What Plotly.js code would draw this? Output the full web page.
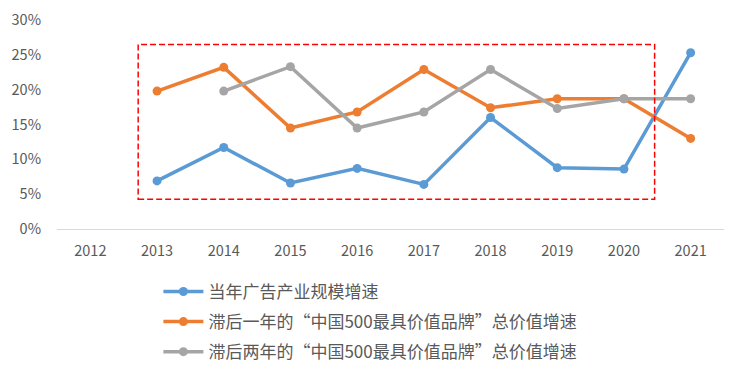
<!DOCTYPE html>
<html><head><meta charset="utf-8">
<script src="https://cdn.plot.ly/plotly-3.0.1.min.js"></script>
<style>body{margin:0;background:#fff}#c{width:741px;height:373px}</style>
</head><body><div id="c"></div>
<script>
var years = ['2012','2013','2014','2015','2016','2017','2018','2019','2020','2021'];
var adGrowth = [null, 6.9, 11.7, 6.6, 8.7, 6.4, 16.0, 8.8, 8.6, 25.3];
var lag1Growth = [null, 19.8, 23.2, 14.5, 16.8, 22.9, 17.4, 18.7, 18.7, 13.0];
var lag2Growth = [null, null, 19.8, 23.3, 14.5, 16.8, 22.9, 17.3, 18.7, 18.7];
var names = ['当年广告产业规模增速', '滞后一年的“中国500最具价值品牌”总价值增速', '滞后两年的“中国500最具价值品牌”总价值增速'];
var colors = ['#5B9BD5', '#ED7D31', '#A5A5A5'];
var series = [adGrowth, lag1Growth, lag2Growth];
var traces = series.map(function(s, i){
  return {x: years, y: s, name: names[i], type: 'scatter', mode: 'lines+markers', legendgroup: 'g' + i,
    line: {color: colors[i], width: 3.5}, marker: {color: colors[i], size: 9}};
});
var layout = {
  width: 741, height: 373,
  margin: {l: 57, r: 17, t: 20, b: 144, autoexpand: false},
  paper_bgcolor: '#fff', plot_bgcolor: '#fff',
  font: {family: '"Noto Sans CJK SC", "Open Sans", sans-serif', color: '#595959', size: 14},
  showlegend: true,
  legend: {orientation: 'v', x: 0.152, xanchor: 'left', y: -0.215, yanchor: 'top',
    font: {size: 17, color: '#595959'}, tracegroupgap: 5, itemwidth: 40},
  xaxis: {type: 'category', range: [-0.5, 9.5], showgrid: false, showline: true, linecolor: '#D9D9D9', linewidth: 1,
    ticks: '', ticklabelstandoff: 9, tickfont: {size: 14.5, color: '#595959'}, fixedrange: true},
  yaxis: {range: [0, 30], dtick: 5, ticksuffix: '%', showgrid: false, zeroline: false, showline: false,
    ticklabelstandoff: 15, tickfont: {size: 14.5, color: '#595959'}, fixedrange: true},
  shapes: [{type: 'rect', xref: 'x', yref: 'y', x0: 0.717, x1: 8.46, y0: 4.26, y1: 26.5,
    line: {color: '#FF0000', width: 1.5, dash: '6px,3px'}, fillcolor: 'rgba(0,0,0,0)'}]
};
Plotly.newPlot('c', traces, layout, {displayModeBar: false, staticPlot: true});
</script></body></html>
